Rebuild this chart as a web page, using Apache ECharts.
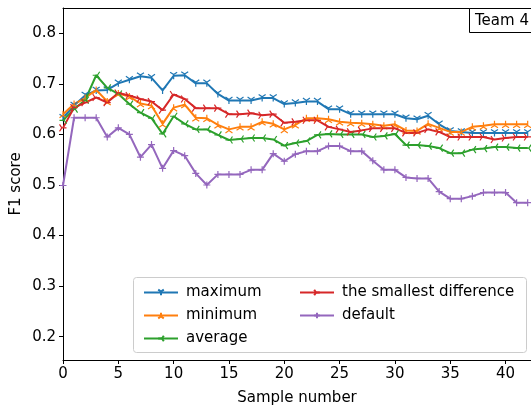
<!DOCTYPE html>
<html>
<head>
<meta charset="utf-8">
<script src="https://cdn.jsdelivr.net/npm/echarts@6/dist/echarts.min.js"></script>
<style>
  html, body { margin: 0; padding: 0; background: #fff; }
  #chart { width: 531px; height: 405px; }
</style>
</head>
<body>
<div id="chart"></div>
<script>
const samples = [0, 1, 2, 3, 4, 5, 6, 7, 8, 9, 10, 11, 12, 13, 14, 15, 16, 17, 18, 19, 20,
  21, 22, 23, 24, 25, 26, 27, 28, 29, 30, 31, 32, 33, 34, 35, 36, 37, 38, 39, 40, 41, 42];

const maximum = [0.633, 0.657, 0.677, 0.687, 0.688, 0.701, 0.708, 0.715, 0.712, 0.687, 0.716,
  0.717, 0.701, 0.701, 0.68, 0.667, 0.667, 0.667, 0.672, 0.672, 0.66, 0.662, 0.665, 0.665,
  0.65, 0.65, 0.64, 0.64, 0.64, 0.64, 0.64, 0.632, 0.63, 0.637, 0.62, 0.607, 0.605, 0.603,
  0.603, 0.603, 0.603, 0.603, 0.603];
const minimum = [0.64, 0.66, 0.672, 0.688, 0.665, 0.681, 0.675, 0.661, 0.657, 0.621, 0.653,
  0.659, 0.633, 0.632, 0.619, 0.61, 0.615, 0.615, 0.625, 0.621, 0.61, 0.619, 0.632, 0.632,
  0.63, 0.625, 0.623, 0.622, 0.62, 0.617, 0.62, 0.608, 0.607, 0.621, 0.613, 0.605, 0.605,
  0.615, 0.617, 0.62, 0.62, 0.62, 0.62];
const average = [0.628, 0.65, 0.668, 0.717, 0.692, 0.68, 0.66, 0.643, 0.632, 0.601, 0.636,
  0.621, 0.61, 0.61, 0.599, 0.589, 0.591, 0.593, 0.593, 0.59, 0.578, 0.583, 0.587, 0.599,
  0.601, 0.6, 0.6, 0.6, 0.595, 0.597, 0.601, 0.579, 0.579, 0.577, 0.573, 0.563, 0.563, 0.57,
  0.572, 0.575, 0.575, 0.573, 0.573];
const smallestDiff = [0.613, 0.653, 0.663, 0.673, 0.663, 0.682, 0.677, 0.67, 0.665, 0.648,
  0.679, 0.67, 0.652, 0.652, 0.652, 0.64, 0.64, 0.642, 0.638, 0.64, 0.623, 0.625, 0.628,
  0.628, 0.615, 0.61, 0.605, 0.608, 0.612, 0.612, 0.612, 0.603, 0.603, 0.61, 0.605, 0.595,
  0.595, 0.595, 0.595, 0.59, 0.593, 0.595, 0.595];
const defaults = [0.499, 0.633, 0.633, 0.633, 0.595, 0.613, 0.6, 0.555, 0.58, 0.533, 0.568,
  0.558, 0.523, 0.5, 0.521, 0.521, 0.521, 0.53, 0.53, 0.562, 0.547, 0.561, 0.567, 0.567,
  0.577, 0.577, 0.567, 0.567, 0.548, 0.53, 0.53, 0.515, 0.513, 0.513, 0.487, 0.473, 0.473,
  0.478, 0.485, 0.485, 0.485, 0.465, 0.465];

const yTicks = [0.2, 0.3, 0.4, 0.5, 0.6, 0.7, 0.8];
const xTicks = [0, 5, 10, 15, 20, 25, 30, 35, 40];

const FONT = 'DejaVu Sans';

// matplotlib tri markers and plus
const markers = {
  triDown: 'path://M0,0L0,10M0,0L-8.66,-5M0,0L8.66,-5',
  triUp: 'path://M0,0L0,-10M0,0L-8.66,5M0,0L8.66,5',
  triLeft: 'path://M0,0L-10,0M0,0L5,-8.66M0,0L5,8.66',
  triRight: 'path://M0,0L10,0M0,0L-5,-8.66M0,0L-5,8.66',
  plus: 'path://M0,-5L0,5M-5,0L5,0'
};

function makeSeries(name, values, color, symbol) {
  return {
    name: name,
    type: 'line',
    data: samples.map((s, i) => [s, values[i]]),
    symbol: symbol,
    symbolSize: 7,
    showSymbol: true,
    lineStyle: { color: color, width: 2 },
    itemStyle: { color: color, borderColor: color, borderWidth: 1.2 },
    emphasis: { disabled: true },
    animation: false
  };
}

const legendText = { fontFamily: FONT, fontSize: 15, color: '#000', padding: [0, 0, 0, 3] };

let myCharts = echarts.init(document.getElementById('chart'));
myCharts.setOption({
  animation: false,
  textStyle: { fontFamily: FONT },
  grid: { left: 63, top: 8, right: 0, bottom: 45, containLabel: false, outerBoundsMode: 'none' },
  legend: [
    {
      data: ['maximum', 'minimum', 'average'],
      orient: 'vertical',
      left: 138, top: 280,
      itemWidth: 34, itemHeight: 7, itemGap: 8,
      textStyle: legendText
    },
    {
      data: ['the smallest difference', 'default'],
      orient: 'vertical',
      left: 294, top: 280,
      itemWidth: 34, itemHeight: 7, itemGap: 8,
      textStyle: legendText
    }
  ],
  graphic: [
    {
      type: 'rect', z: 0,
      shape: { x: 133.5, y: 277.5, width: 393, height: 75, r: 3 },
      style: { fill: 'rgba(255,255,255,0.8)', stroke: '#cccccc', lineWidth: 1 }
    },
    {
      type: 'rect', z: 10,
      shape: { x: 469.5, y: 8.5, width: 80, height: 24 },
      style: { fill: '#fff', stroke: '#000', lineWidth: 1 }
    },
    {
      type: 'text', z: 11, x: 475, y: 21,
      style: { text: 'Team 4', font: '15px "DejaVu Sans"', fill: '#000', verticalAlign: 'middle' }
    }
  ],
  xAxis: [
    {
      type: 'value',
      min: 0, max: 42.3,
      name: 'Sample number',
      nameLocation: 'middle',
      nameGap: 31,
      nameMoveOverlap: false,
      nameTextStyle: { fontFamily: FONT, fontSize: 15, color: '#000' },
      axisLine: { onZero: false, lineStyle: { color: '#000', width: 1 } },
      axisTick: { inside: false, length: 4, customValues: xTicks, lineStyle: { color: '#000' } },
      axisLabel: { customValues: xTicks, fontFamily: FONT, fontSize: 15, color: '#000', margin: 7 },
      splitLine: { show: false }
    },
    {
      type: 'value',
      position: 'top',
      min: 0, max: 42.3,
      axisLine: { show: true, onZero: false, lineStyle: { color: '#000', width: 1 } },
      axisTick: { show: false },
      axisLabel: { show: false },
      splitLine: { show: false }
    }
  ],
  yAxis: {
    type: 'value',
    min: 0.154, max: 0.85,
    name: 'F1 score',
    nameLocation: 'middle',
    nameGap: 39,
    nameMoveOverlap: false,
    nameTextStyle: { fontFamily: FONT, fontSize: 15, color: '#000' },
    axisLine: { show: true, lineStyle: { color: '#000', width: 1 } },
    axisTick: { show: true, length: 4, customValues: yTicks, lineStyle: { color: '#000' } },
    axisLabel: {
      customValues: yTicks, fontFamily: FONT, fontSize: 15, color: '#000', margin: 7,
      formatter: v => v.toFixed(1)
    },
    splitLine: { show: false }
  },
  series: [
    makeSeries('maximum', maximum, '#1f77b4', markers.triDown),
    makeSeries('minimum', minimum, '#ff7f0e', markers.triUp),
    makeSeries('average', average, '#2ca02c', markers.triLeft),
    makeSeries('the smallest difference', smallestDiff, '#d62728', markers.triRight),
    makeSeries('default', defaults, '#9467bd', markers.plus)
  ]
});
</script>
</body>
</html>
